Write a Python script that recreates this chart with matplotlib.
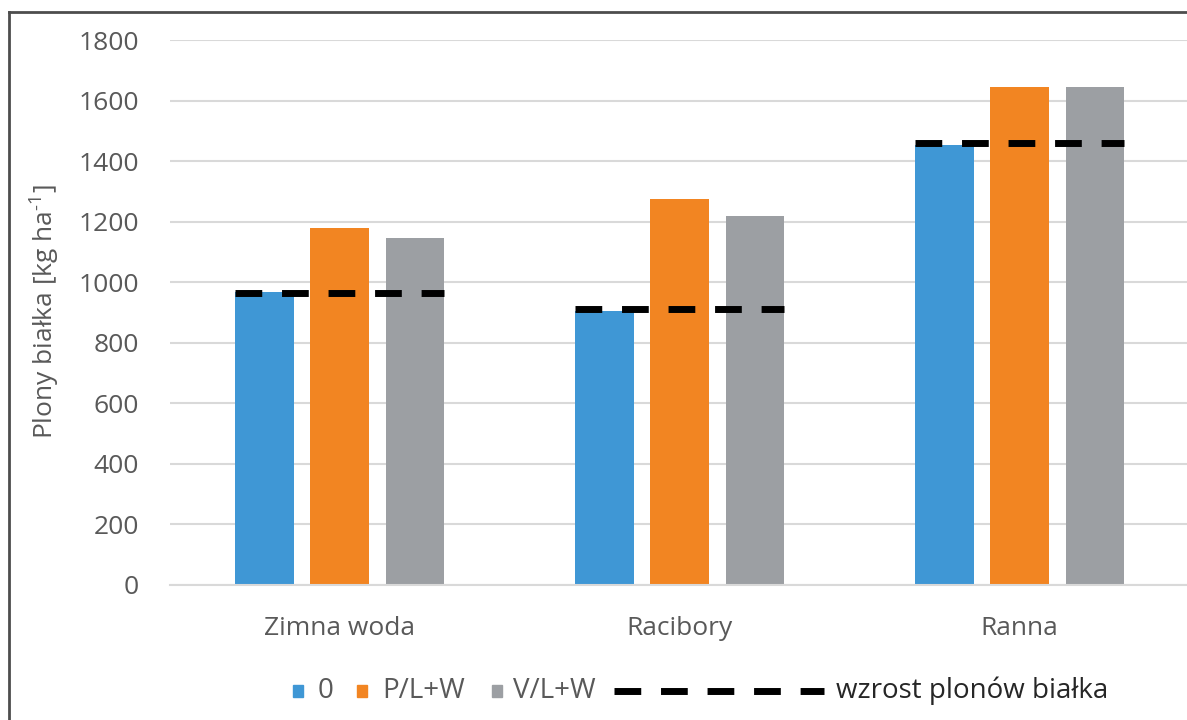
import matplotlib
matplotlib.use("Agg")
import matplotlib.pyplot as plt
from matplotlib.lines import Line2D
from matplotlib.patches import Rectangle
import numpy as np

# Data
categories = ["Zimna woda", "Racibory", "Ranna"]
series_names = ["0", "P/L+W", "V/L+W"]
yield_0 = [968, 905, 1453]
yield_plw = [1180, 1274, 1646]
yield_vlw = [1147, 1219, 1646]
growth_level = [965, 911, 1461]
growth_name = "wzrost plonów białka"
y_ticks = [0, 200, 400, 600, 800, 1000, 1200, 1400, 1600, 1800]

colors = ["#3F97D5", "#F28522", "#9C9FA3"]
text_color = "#595959"
grid_color = "#D9D9D9"

plt.rcParams["font.family"] = ["Open Sans", "DejaVu Sans"]
plt.rcParams["mathtext.default"] = "regular"

W, H = 1187, 720
fig = plt.figure(figsize=(W / 100, H / 100), dpi=100)


def fx(px):
    return px / W


def fy(py):
    return 1 - py / H


# plot area
ax_left, ax_right, ax_top, ax_bottom = 169.7, 1189.7, 40, 585
ax = fig.add_axes([fx(ax_left), fy(ax_bottom), fx(ax_right - ax_left), (ax_bottom - ax_top) / H])

x = np.arange(len(categories))
bar_w = 0.172
offset = 0.2215
series = [yield_0, yield_plw, yield_vlw]
for i, (vals, col) in enumerate(zip(series, colors)):
    ax.bar(x + (i - 1) * offset, vals, width=bar_w, color=col, zorder=2)

dash_style = dict(color="black", linewidth=5.0, linestyle=(0, (3.85, 2.85)),
                  solid_capstyle="butt", dash_capstyle="butt", zorder=3)
for xi, lvl in zip(x, growth_level):
    ax.plot([xi - offset - bar_w / 2, xi + offset + bar_w / 2], [lvl, lvl], **dash_style)

ax.set_xlim(-0.5, len(categories) - 0.5)
ax.set_ylim(0, 1800)
ax.set_yticks(y_ticks)
ax.set_xticks(x)
ax.set_xticklabels(categories)
ax.tick_params(axis="y", length=0, pad=22, labelsize=19, labelcolor=text_color)
ax.tick_params(axis="x", length=0, pad=22, labelsize=19, labelcolor=text_color)
ax.yaxis.grid(True, color=grid_color, linewidth=1.5, zorder=0)
ax.set_axisbelow(True)
for side in ["left", "right", "top"]:
    ax.spines[side].set_visible(False)
ax.spines["bottom"].set_color(grid_color)
ax.spines["bottom"].set_linewidth(1.5)

fig.text(fx(45), fy(312), "Plony białka [kg ha$^{\u2010 1}$]", rotation=90,
         ha="center", va="center", fontsize=19, color=text_color)

# legend row
leg_y = 691
leg_fs = 20
sq_w, sq_h = 10, 12
items = [(293, 318), (357, 382), (492, 513)]
for (sx, tx), col, name in zip(items, colors, series_names):
    fig.patches.append(Rectangle((fx(sx), fy(leg_y + sq_h / 2)), fx(sq_w), sq_h / H,
                                 transform=fig.transFigure, color=col))
    fig.text(fx(tx), fy(leg_y), name, ha="left", va="center",
             fontsize=leg_fs, color=text_color)
fig.add_artist(Line2D([fx(614), fx(824)], [fy(leg_y), fy(leg_y)],
                      transform=fig.transFigure, **dash_style))
fig.text(fx(836), fy(leg_y), growth_name, ha="left", va="center",
         fontsize=leg_fs, color="#262626")

# outer frame
frame_kw = dict(transform=fig.transFigure, color="#4D4D4D", linewidth=2)
fig.add_artist(Line2D([fx(8.5), 1.0], [fy(11.5), fy(11.5)], **frame_kw))
fig.add_artist(Line2D([fx(8.5), fx(8.5)], [fy(11.5), 0.0], **frame_kw))

fig.savefig("out.png", dpi=100, facecolor="white")
